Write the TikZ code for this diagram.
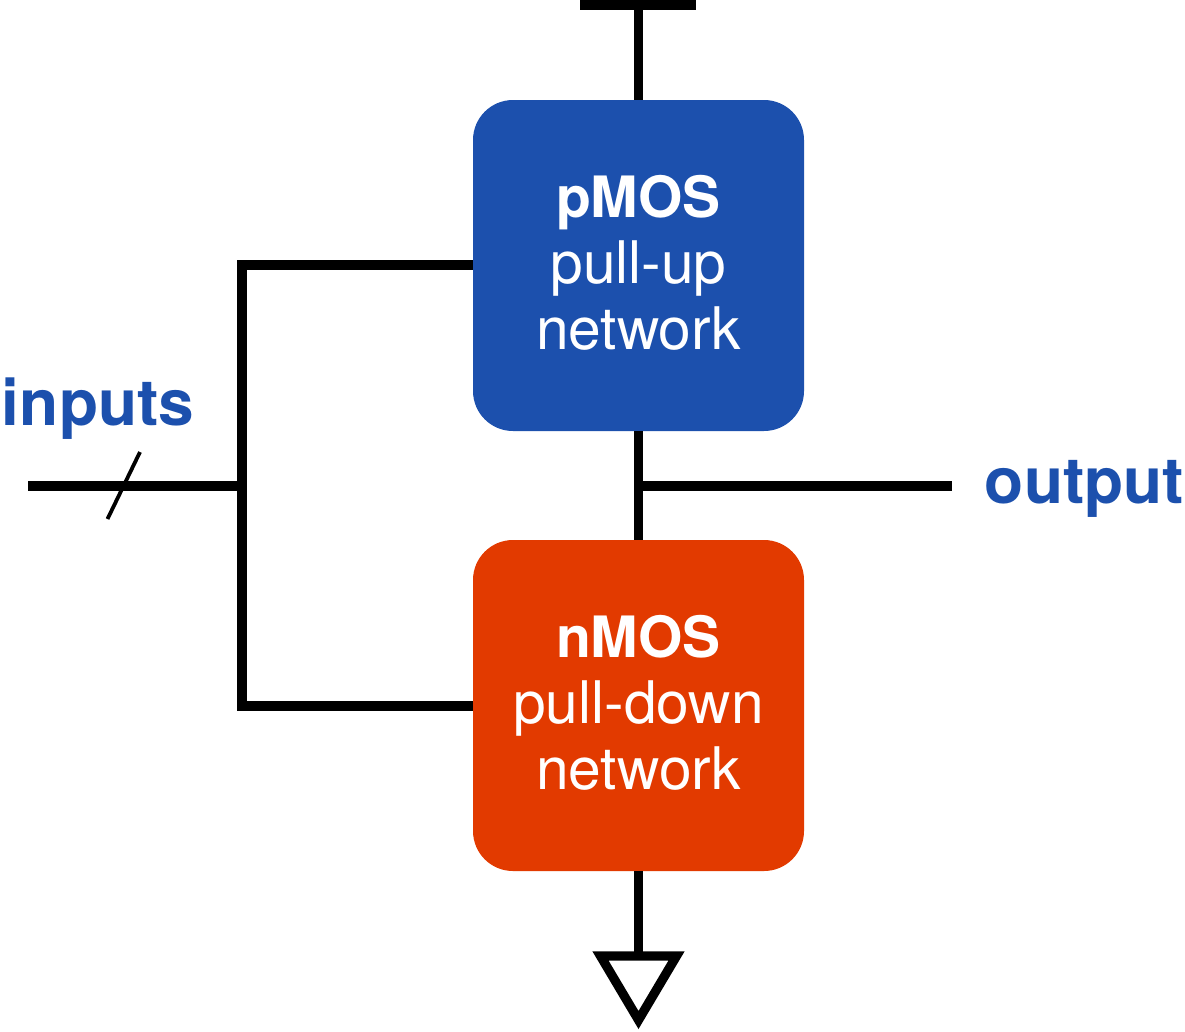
\documentclass[tikz,border=0pt]{standalone}
\usepackage{fontspec}
\setmainfont{TeX Gyre Heros}
\definecolor{pblue}{HTML}{1C50AD}
\definecolor{nred}{HTML}{E23A00}
\begin{document}
\begin{tikzpicture}[x=1pt,y=-1pt,
  wire/.style={line width=9.2pt,line cap=butt,line join=miter},
  block/.style={rounded corners=40pt,minimum width=331pt,minimum height=331pt,inner sep=0pt},
  blocktext/.style={text=white,align=center,inner sep=0pt,font=\fontsize{58.7}{66}\selectfont},
  lbl/.style={text=pblue,inner sep=0pt,font=\fontsize{64}{70}\selectfont\bfseries}]
\useasboundingbox (0,0) rectangle (1185,1031);
\coordinate (railL) at (580,5);
\coordinate (railR) at (696,5);
\coordinate (railM) at (638.5,5);
\coordinate (inL) at (28,486);
\coordinate (inJ) at (242,486);
\coordinate (outJ) at (638.5,486);
\coordinate (outR) at (952,486);
\coordinate (busT) at (242,265);
\coordinate (busB) at (242,706);
\coordinate (gndT) at (638.5,955);
\coordinate (gA) at (600.5,956);
\coordinate (gB) at (676.5,956);
\coordinate (gC) at (638.5,1020);
\coordinate (s1) at (140,452);
\coordinate (s2) at (107.5,519);
\node[block,fill=pblue] (p) at (638.5,265.5) {};
\node[block,fill=nred] (n) at (638.5,705.5) {};
\node[blocktext] (pt) at (638.5,262.5) {\fontsize{57}{66}\selectfont\textbf{pMOS}\\pull-up\\network};
\node[blocktext] (nt) at (638.5,702.5) {\fontsize{57}{66}\selectfont\textbf{nMOS}\\pull-down\\network};
\draw[wire] (railL) -- (railR);
\draw[wire] (railM) -- (p.north);
\draw[wire] (p.south) -- (n.north);
\draw[wire] (n.south) -- (gndT);
\draw[wire] (outJ) -- (outR);
\draw[wire] (inL) -- (inJ);
\draw[wire] (p.west |- busT) -- (busT) -- (busB) -- (n.west |- busB);
\draw[wire] (gA) -- (gB) -- (gC) -- cycle;
\draw[line width=3.8pt] (s1) -- (s2);
\node[lbl] (in) at (98,409) {inputs};
\node[lbl] (out) at (1084.5,489) {output};
\end{tikzpicture}
\end{document}
